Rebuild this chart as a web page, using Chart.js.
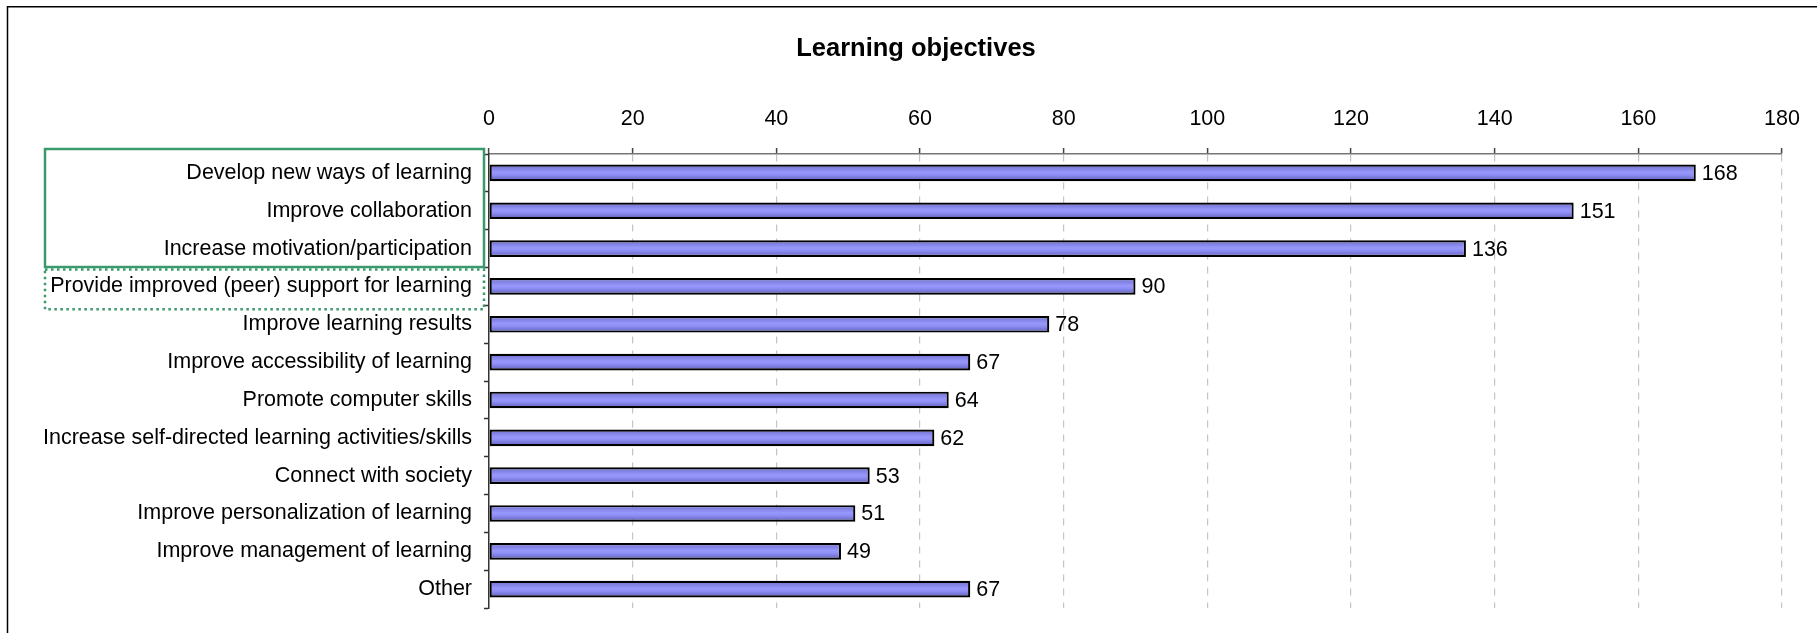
<!DOCTYPE html>
<html>
<head>
<meta charset="utf-8">
<script src="https://cdn.jsdelivr.net/npm/chart.js@4/dist/chart.umd.min.js"></script>
<style>
  html, body { margin: 0; padding: 0; background: #ffffff; }
  canvas { display: block; }
</style>
</head>
<body>
<canvas id="c" width="1817" height="633"></canvas>
<script>
const chartTitle = 'Learning objectives';
const categories = [
  'Develop new ways of learning',
  'Improve collaboration',
  'Increase motivation/participation',
  'Provide improved (peer) support for learning',
  'Improve learning results',
  'Improve accessibility of learning',
  'Promote computer skills',
  'Increase self-directed learning activities/skills',
  'Connect with society',
  'Improve personalization of learning',
  'Improve management of learning',
  'Other'
];
const values = [168, 151, 136, 90, 78, 67, 64, 62, 53, 51, 49, 67];
const xMin = 0;
const xMax = 180;
const xStep = 20;
const solidBoxCategories = [0, 2];   // highlighted group (solid green frame)
const dottedBoxCategories = [3, 3];  // dotted green frame

const FONT = "'Liberation Sans', Arial, sans-serif";
Chart.defaults.font.family = FONT;
Chart.defaults.color = '#000000';

const frameTitleBoxes = {
  id: 'frameTitleBoxes',
  beforeDraw(chart) {
    const ctx = chart.ctx;
    ctx.save();
    ctx.fillStyle = '#ffffff';
    ctx.fillRect(0, 0, chart.width, chart.height);
    ctx.strokeStyle = '#000000';
    ctx.lineWidth = 1.5;
    ctx.strokeRect(7.5, 6.75, chart.width + 20, chart.height + 20);
    ctx.font = "bold 25.5px " + FONT;
    ctx.fillStyle = '#000000';
    ctx.textAlign = 'center';
    ctx.textBaseline = 'alphabetic';
    ctx.fillText(chartTitle, 916, 55.5);
    ctx.restore();
  },
  afterDraw(chart) {
    const ctx = chart.ctx;
    const ys = chart.scales.y;
    const band = (ys.getPixelForValue(1) - ys.getPixelForValue(0));
    const left = 45, right = 484;
    ctx.save();
    ctx.strokeStyle = '#3a9a6c';
    ctx.lineWidth = 2.5;
    let t = ys.getPixelForValue(solidBoxCategories[0]) - band / 2 - 5;
    let b = ys.getPixelForValue(solidBoxCategories[1]) + band / 2 - 0.5;
    ctx.strokeRect(left, t, right - left, b - t);
    t = ys.getPixelForValue(dottedBoxCategories[0]) - band / 2 + 2;
    b = ys.getPixelForValue(dottedBoxCategories[1]) + band / 2 + 4;
    ctx.setLineDash([2.5, 3.5]);
    ctx.strokeRect(left, t, right - left, b - t);
    ctx.restore();
  }
};

const valueLabels = {
  id: 'valueLabels',
  afterDatasetsDraw(chart) {
    const ctx = chart.ctx;
    const meta = chart.getDatasetMeta(0);
    ctx.save();
    ctx.font = "21.5px " + FONT;
    ctx.fillStyle = '#000000';
    ctx.textAlign = 'left';
    ctx.textBaseline = 'middle';
    meta.data.forEach((bar, i) => {
      ctx.fillText(String(values[i]), bar.x + 6, bar.y + 1);
    });
    ctx.restore();
  }
};

function barGradient(context) {
  const chart = context.chart;
  const ys = chart.scales && chart.scales.y;
  if (!ys || context.dataIndex === undefined || !isFinite(ys.getPixelForValue(context.dataIndex))) {
    return '#8c8cf0';
  }
  const c = ys.getPixelForValue(context.dataIndex);
  const h = 8.5;
  const g = chart.ctx.createLinearGradient(0, c - h, 0, c + h);
  g.addColorStop(0, '#6c6cc8');
  g.addColorStop(0.45, '#9797fc');
  g.addColorStop(0.6, '#8f8ff6');
  g.addColorStop(1, '#5c5cb4');
  return g;
}

new Chart(document.getElementById('c'), {
  type: 'bar',
  data: {
    labels: categories,
    datasets: [{
      data: values,
      backgroundColor: barGradient,
      borderColor: '#000000',
      borderWidth: 2.2,
      borderSkipped: false,
      barPercentage: 0.44,
      categoryPercentage: 1.0
    }]
  },
  options: {
    indexAxis: 'y',
    responsive: false,
    animation: false,
    devicePixelRatio: 1,
    layout: { padding: { left: 0, right: 35, top: 59.5, bottom: 12 } },
    plugins: {
      legend: { display: false },
      tooltip: { enabled: false },
      title: { display: false }
    },
    scales: {
      x: {
        position: 'top',
        min: xMin,
        max: xMax,
        ticks: {
          stepSize: xStep,
          color: '#000000',
          font: { size: 21.5 },
          padding: 16
        },
        grid: {
          color: (ctx) => (ctx.tick && ctx.tick.value === 0) ? 'rgba(0,0,0,0)' : '#c4c4c4',
          lineWidth: 1.2,
          drawTicks: true,
          tickLength: 6,
          tickColor: '#444444',
          tickWidth: 1.5,
          tickBorderDash: []
        },
        border: { display: true, color: '#777777', width: 1.5, dash: [7, 7] },
        afterFit(scale) { scale.height = 94.5; }
      },
      y: {
        ticks: {
          color: '#000000',
          font: { size: 21.5 },
          padding: 12,
          autoSkip: false
        },
        grid: {
          offset: true,
          drawOnChartArea: false,
          drawTicks: true,
          tickLength: 5,
          tickColor: '#333333',
          tickWidth: 1.5
        },
        border: { display: true, color: '#333333', width: 1.5 },
        afterFit(scale) { scale.width = 489; }
      }
    }
  },
  plugins: [frameTitleBoxes, valueLabels]
});
</script>
</body>
</html>
